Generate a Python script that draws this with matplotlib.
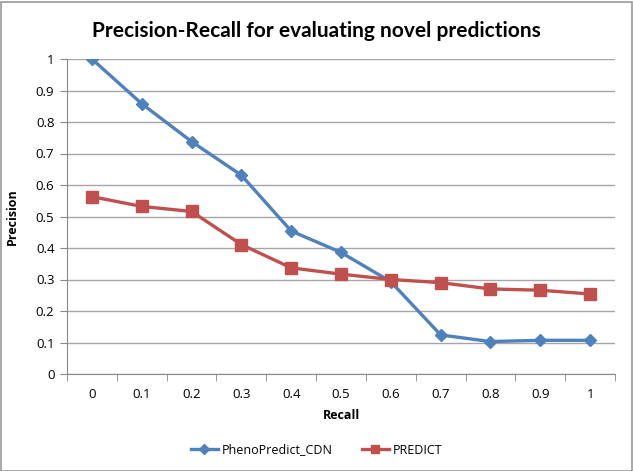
import numpy as np
import matplotlib.pyplot as plt
from matplotlib.patches import Rectangle

recall = ['0', '0.1', '0.2', '0.3', '0.4', '0.5', '0.6', '0.7', '0.8', '0.9', '1']
pheno_cdn = [1.0, 0.858, 0.738, 0.631, 0.454, 0.386, 0.293, 0.124, 0.103, 0.107, 0.107]
predict = [0.563, 0.532, 0.516, 0.411, 0.337, 0.317, 0.300, 0.290, 0.270, 0.266, 0.254]
yticks = [0, 0.1, 0.2, 0.3, 0.4, 0.5, 0.6, 0.7, 0.8, 0.9, 1]


def main():
    plt.rcParams['font.family'] = ['Open Sans', 'DejaVu Sans']
    fig = plt.figure(figsize=(6.33, 4.71), dpi=100)
    W, H = 633, 471
    ax = fig.add_axes([67 / W, 1 - 374 / H, (615 - 67) / W, (374 - 59) / H])

    x = np.arange(len(recall))
    ax.plot(x, pheno_cdn, color='#4F81BD', lw=2.4, marker='D', ms=6,
            label='PhenoPredict_CDN', zorder=3)
    ax.plot(x, predict, color='#C0504D', lw=2.4, marker='s', ms=8,
            label='PREDICT', zorder=3)

    ax.set_xlim(-0.5, len(recall) - 0.5)
    ax.set_ylim(0, 1)
    ax.set_yticks(yticks)
    ax.set_yticklabels(['{:g}'.format(v) for v in yticks])
    ax.set_xticks(x)
    ax.set_xticklabels(recall)
    ax.set_xticks(np.arange(-0.5, len(recall)), minor=True)
    ax.tick_params(axis='x', which='major', length=0, pad=10, labelsize=9.5)
    ax.tick_params(axis='x', which='minor', length=5, color='#888888', direction='out')
    ax.tick_params(axis='y', length=5, color='#888888', labelsize=9.5, pad=4)
    ax.grid(axis='y', color='#a6a6a6', lw=1)
    ax.set_axisbelow(True)
    for s in ['top', 'right']:
        ax.spines[s].set_visible(False)
    for s in ['left', 'bottom']:
        ax.spines[s].set_color('#888888')

    ax.set_xlabel('Recall', fontweight='bold', fontsize=9, labelpad=6)
    ax.set_ylabel('Precision', fontweight='bold', fontsize=9, labelpad=12)

    fig.text(0.5, 1 - 31 / H, 'Precision-Recall for evaluating novel predictions',
             ha='center', va='center', fontsize=15, fontweight='bold', family='Lato')

    fig.legend(loc='center', bbox_to_anchor=(0.5, 1 - 450 / H), ncol=2,
               frameon=False, fontsize=9, handlelength=2.2, handletextpad=0.3,
               columnspacing=2.3, markerscale=0.8)

    fig.patches.append(Rectangle((0.5 / W, 0.5 / H), 1 - 2 / W, 1 - 2 / H,
                                 transform=fig.transFigure, fill=False,
                                 edgecolor='#999999', lw=1.2))
    fig.savefig('out.png', dpi=100)


if __name__ == '__main__':
    main()
